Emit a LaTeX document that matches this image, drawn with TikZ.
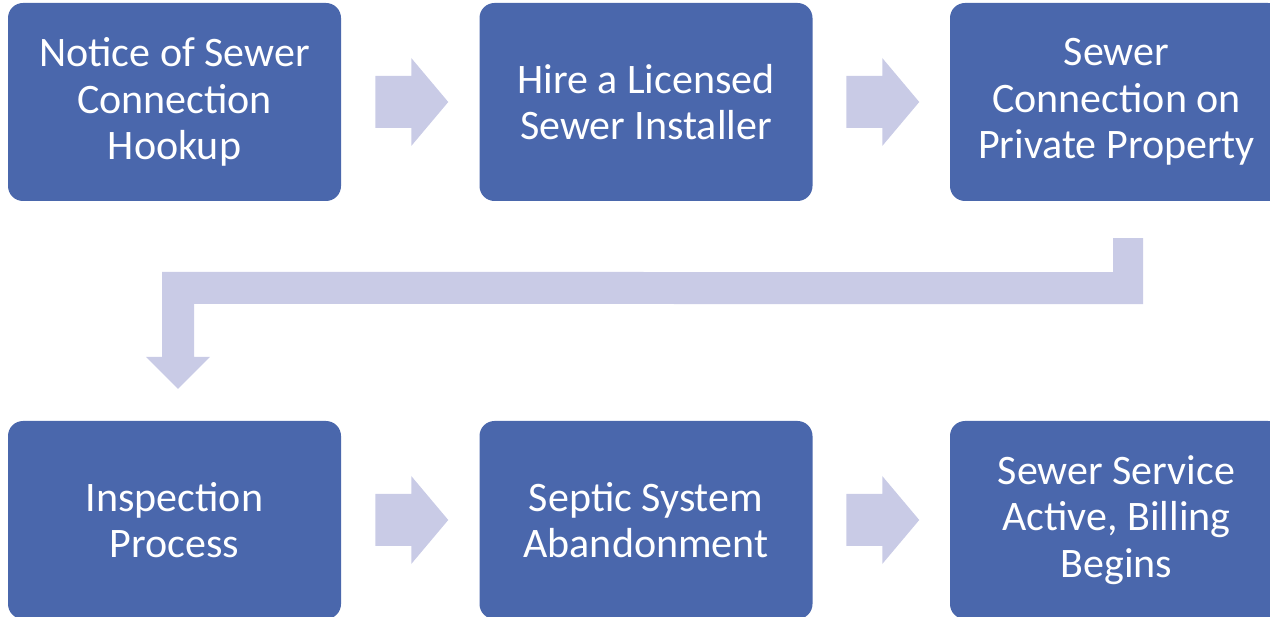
\documentclass[tikz,border=0pt]{standalone}
\usepackage{fontspec}
\setmainfont{Carlito}
\usetikzlibrary{calc}
\definecolor{boxblue}{RGB}{74,103,172}
\definecolor{arrowlilac}{RGB}{201,203,230}
\tikzset{stepbox/.style={fill=boxblue, rounded corners=15pt, minimum width=333pt, minimum height=198pt, inner sep=0pt, text=white, align=center, font=\fontsize{42}{46.5}\selectfont}}
\tikzset{flowfill/.style={fill=arrowlilac}}
\newcommand\flowarrow[2]{\fill[flowfill, shift={($(#1.east)!0.5!(#2.west)$)}] (-35,-26) -- (1,-26) -- (1,-44) -- (38,0) -- (1,44) -- (1,26) -- (-35,26) -- cycle;}

\begin{document}
\begin{tikzpicture}[x=1pt, y=-1pt]
   \useasboundingbox (0,0) rectangle (1270,617);
   \clip (0,0) rectangle (1270,617);
   \node[stepbox] (notice) at (174.5,102) {Notice of Sewer\\Connection\\Hookup};
   \node[stepbox] (hire) at (646,102) {Hire a Licensed\\Sewer Installer};
   \node[stepbox] (connect) at (1116.5,102) {Sewer\\Connection on\\Private Property};
   \node[stepbox] (inspect) at (174.5,520) {Inspection\\Process};
   \node[stepbox] (septic) at (646,520) {Septic System\\Abandonment};
   \node[stepbox] (billing) at (1116.5,520) {Sewer Service\\Active, Billing\\Begins};
   \flowarrow{notice}{hire}
   \flowarrow{hire}{connect}
   \flowarrow{inspect}{septic}
   \flowarrow{septic}{billing}
   \fill[flowfill]
     ($(connect.south)+(-3.5,37)$) -- ($(connect.south)+(26.5,37)$) --
     ($(connect.south)+(26.5,103)$) -- ($(inspect.north)+(19.5,-117)$) --
     ($(inspect.north)+(19.5,-64)$) -- ($(inspect.north)+(35.5,-64)$) --
     ($(inspect.north)+(3.5,-32)$) -- ($(inspect.north)+(-28.5,-64)$) --
     ($(inspect.north)+(-12.5,-64)$) -- ($(inspect.north)+(-12.5,-149)$) --
     ($(connect.south)+(-3.5,71)$) -- cycle;
  \end{tikzpicture}
\end{document}
